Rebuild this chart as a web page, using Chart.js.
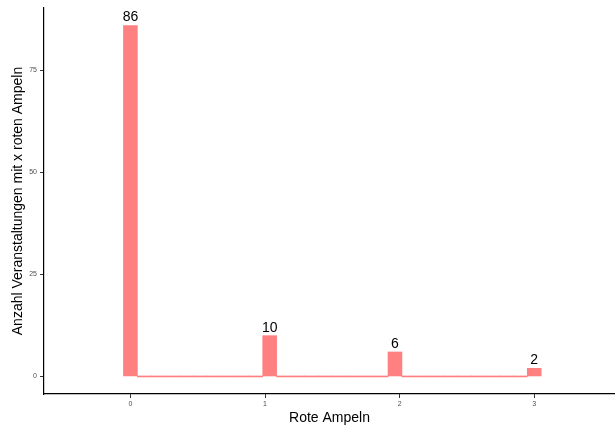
<!DOCTYPE html>
<html>
<head>
<meta charset="utf-8">
<script src="https://cdn.jsdelivr.net/npm/chart.js@4.4.0/dist/chart.umd.min.js"></script>
<style>
  html, body { margin:0; padding:0; background:#fff; }
  #wrap { width:615px; height:431px; }
</style>
</head>
<body>
<div id="wrap"><canvas id="chart" width="615" height="431"></canvas></div>
<script>
// Histogram of red traffic lights per event (30 bins over 0..3)
const binCenters = [0, 0.1034, 0.2069, 0.3103, 0.4138, 0.5172, 0.6207, 0.7241, 0.8276, 0.9310,
                    1.0345, 1.1379, 1.2414, 1.3448, 1.4483, 1.5517, 1.6552, 1.7586, 1.8621, 1.9655,
                    2.0690, 2.1724, 2.2759, 2.3793, 2.4828, 2.5862, 2.6897, 2.7931, 2.8966, 3.0];
const counts     = [86, 0, 0, 0, 0, 0, 0, 0, 0, 0,
                    10, 0, 0, 0, 0, 0, 0, 0, 0, 6,
                    0, 0, 0, 0, 0, 0, 0, 0, 0, 2];
const xTicks = [0, 1, 2, 3];
const yTicks = [0, 25, 50, 75];

const barColor = '#FF8080';
const font = "'Liberation Sans', Arial, Helvetica, sans-serif";

// draw count labels above non-empty bars
const countLabels = {
  id: 'countLabels',
  afterDatasetsDraw(chart){
    const ctx = chart.ctx;
    const meta = chart.getDatasetMeta(0);
    ctx.save();
    ctx.fillStyle = '#000';
    ctx.font = `14px ${font}`;
    ctx.textAlign = 'center';
    ctx.textBaseline = 'bottom';
    meta.data.forEach((bar, i) => {
      if (!counts[i]) return;
      ctx.fillText(String(counts[i]), bar.x, bar.y - 1);
    });
    ctx.restore();
  }
};

new Chart(document.getElementById('chart').getContext('2d'), {
  type: 'bar',
  data: {
    datasets: [{
      data: counts.map((c, i) => ({ x: binCenters[i], y: c })),
      backgroundColor: barColor,
      borderWidth: 0,
      barPercentage: 1,
      categoryPercentage: 1,
      minBarLength: 1
    }]
  },
  plugins: [countLabels],
  options: {
    responsive: false,
    animation: false,
    layout: { padding: { top: 8, right: 0, left: 0, bottom: 0 } },
    plugins: { legend: { display: false }, tooltip: { enabled: false } },
    scales: {
      x: {
        type: 'linear',
        min: -0.642,
        max: 3.60,
        offset: false,
        afterBuildTicks(scale){ scale.ticks = xTicks.map(v => ({ value: v })); },
        afterFit(scale){ scale.height = 37; },
        border: { display: true, color: '#000', width: 1.2 },
        grid: { display: true, offset: false, drawOnChartArea: false, drawTicks: true, tickLength: 4, tickColor: '#333' },
        ticks: { color: '#4D4D4D', font: { family: font, size: 7 }, padding: 2, maxRotation: 0 },
        title: { display: true, text: 'Rote Ampeln', color: '#000', font: { family: font, size: 14 }, padding: { top: 2, bottom: 4 } }
      },
      y: {
        min: -4.3,
        max: 90.3,
        afterBuildTicks(scale){ scale.ticks = yTicks.map(v => ({ value: v })); },
        afterFit(scale){ scale.width = 44; },
        border: { display: true, color: '#000', width: 1.2 },
        grid: { display: true, offset: false, drawOnChartArea: false, drawTicks: true, tickLength: 4, tickColor: '#333' },
        ticks: { color: '#4D4D4D', font: { family: font, size: 7 }, padding: 3 },
        title: { display: true, text: 'Anzahl Veranstaltungen mit x roten Ampeln', color: '#000', font: { family: font, size: 14 }, padding: { top: 10, bottom: 0 } }
      }
    }
  }
});
</script>
</body>
</html>
